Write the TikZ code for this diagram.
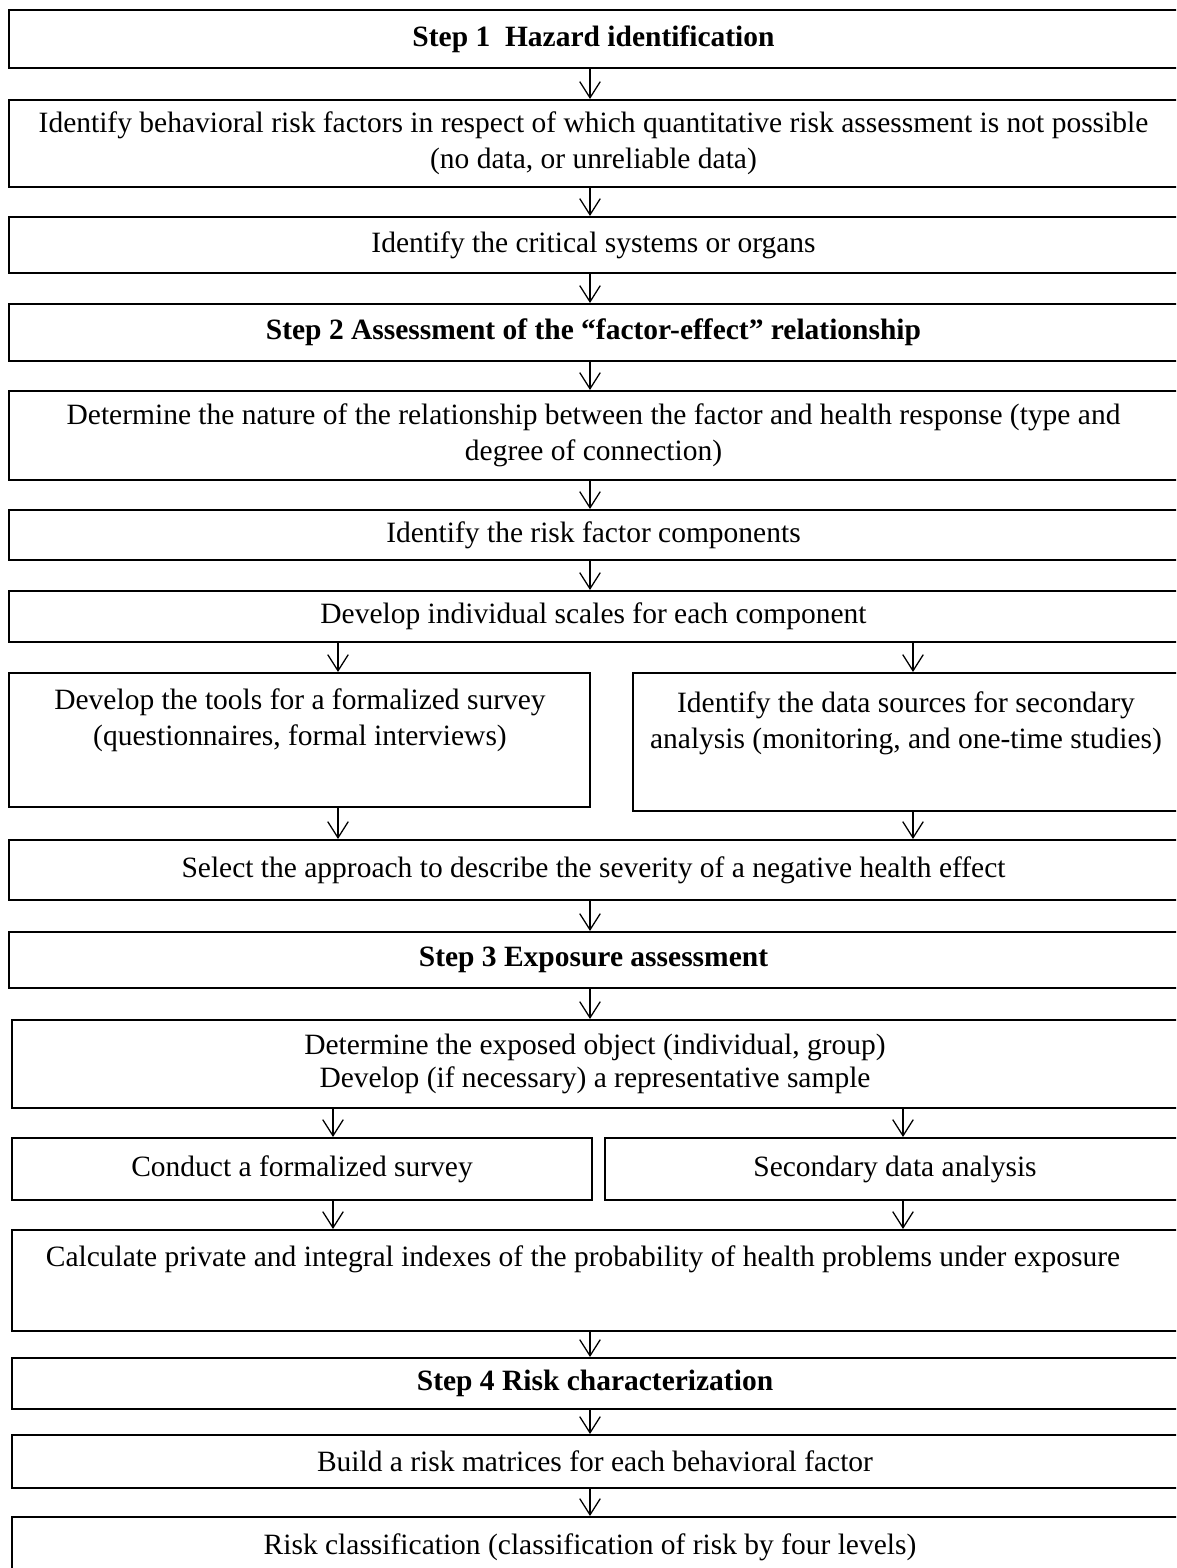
\documentclass[tikz,border=0pt]{standalone}
\usepackage{fontspec}
\setmainfont{Liberation Serif}
\usetikzlibrary{fit,arrows.meta}
\tikzset{
  box/.style={draw, line width=0.8pt, inner sep=0pt},
  boxtext/.style={inner sep=0pt, align=center, font=\fontsize{11.5}{14}\selectfont},
  toptext/.style={anchor=north, inner sep=0pt, align=center, font=\fontsize{11.5}{14}\selectfont},
  arr/.style={line width=0.5pt, -{Straight Barb[length=6.3pt,width=8pt,line width=0.5pt]}}
}
\begin{document}
\begin{tikzpicture}[x=0.39pt,y=-0.39pt]
\useasboundingbox (0,0) rectangle (1176,1568);
\clip (0,0) rectangle (1176,1568);
\coordinate (mx) at (590,0);
\coordinate (lx) at (338,0);
\coordinate (rx) at (913,0);
\coordinate (lx2) at (333,0);
\coordinate (rx2) at (903,0);

\node[box, fit={(9,10) (1178,68)}, label={[boxtext]center:\textbf{Step 1\ \ Hazard identification}}] (b1) {};
\node[box, fit={(9,100) (1178,187)}, label={[boxtext]center:Identify behavioral risk factors in respect of which quantitative risk assessment is not possible\\(no data, or unreliable data)}] (b2) {};
\node[box, fit={(9,217) (1178,273)}, label={[boxtext]center:Identify the critical systems or organs}] (b3) {};
\node[box, fit={(9,304) (1178,361)}, label={[boxtext]center:\textbf{Step 2 Assessment of the ``factor-effect'' relationship}}] (b4) {};
\node[box, fit={(9,391) (1178,480)}, label={[boxtext]center:Determine the nature of the relationship between the factor and health response (type and\\degree of connection)}] (b5) {};
\node[box, fit={(9,510) (1178,560)}, label={[boxtext]center:Identify the risk factor components}] (b6) {};
\node[box, fit={(9,591) (1178,642)}, label={[boxtext]center:Develop individual scales for each component}] (b7) {};
\node[box, fit={(9,673) (590,807)}] (b8L) {};
\node[toptext] (t8L) at (300,688) {Develop the tools for a formalized survey\\(questionnaires, formal interviews)};
\node[box, fit={(633,673) (1182,811)}] (b8R) {};
\node[toptext] (t8R) at (906,691) {Identify the data sources for secondary\\analysis (monitoring, and one-time studies)};
\node[box, fit={(9,840) (1178,900)}, label={[boxtext]center:Select the approach to describe the severity of a negative health effect}] (b9) {};
\node[box, fit={(9,932) (1178,988)}, label={[boxtext]center:\textbf{Step 3 Exposure assessment}}] (b10) {};
\node[box, fit={(12,1020) (1178,1108)}, label={[boxtext, font=\fontsize{11.5}{13}\selectfont]center:Determine the exposed object (individual, group)\\Develop (if necessary) a representative sample}] (b11) {};
\node[box, fit={(12,1138) (592,1200)}, label={[boxtext]center:Conduct a formalized survey}] (b12L) {};
\node[box, fit={(605,1138) (1185,1200)}, label={[boxtext]center:Secondary data analysis}] (b12R) {};
\node[box, fit={(12,1230) (1178,1331)}] (b13) {};
\node[toptext] (t13) at (583,1245) {Calculate private and integral indexes of the probability of health problems under exposure};
\node[box, fit={(12,1358) (1178,1409)}, label={[boxtext]center:\textbf{Step 4 Risk characterization}}] (b14) {};
\node[box, fit={(12,1435) (1178,1488)}, label={[boxtext]center:Build a risk matrices for each behavioral factor}] (b15) {};
\node[box, fit={(12,1517) (1178,1620)}] (b16) {};
\node[toptext] (t16) at (590,1533) {Risk classification (classification of risk by four levels)};

\draw[arr] (b1.south -| mx) -- (b2.north -| mx);
\draw[arr] (b2.south -| mx) -- (b3.north -| mx);
\draw[arr] (b3.south -| mx) -- (b4.north -| mx);
\draw[arr] (b4.south -| mx) -- (b5.north -| mx);
\draw[arr] (b5.south -| mx) -- (b6.north -| mx);
\draw[arr] (b6.south -| mx) -- (b7.north -| mx);
\draw[arr] (b7.south -| lx) -- (b8L.north -| lx);
\draw[arr] (b7.south -| rx) -- (b8R.north -| rx);
\draw[arr] (b8L.south -| lx) -- (b9.north -| lx);
\draw[arr] (b8R.south -| rx) -- (b9.north -| rx);
\draw[arr] (b9.south -| mx) -- (b10.north -| mx);
\draw[arr] (b10.south -| mx) -- (b11.north -| mx);
\draw[arr] (b11.south -| lx2) -- (b12L.north -| lx2);
\draw[arr] (b11.south -| rx2) -- (b12R.north -| rx2);
\draw[arr] (b12L.south -| lx2) -- (b13.north -| lx2);
\draw[arr] (b12R.south -| rx2) -- (b13.north -| rx2);
\draw[arr] (b13.south -| mx) -- (b14.north -| mx);
\draw[arr] (b14.south -| mx) -- (b15.north -| mx);
\draw[arr] (b15.south -| mx) -- (b16.north -| mx);
\end{tikzpicture}
\end{document}
